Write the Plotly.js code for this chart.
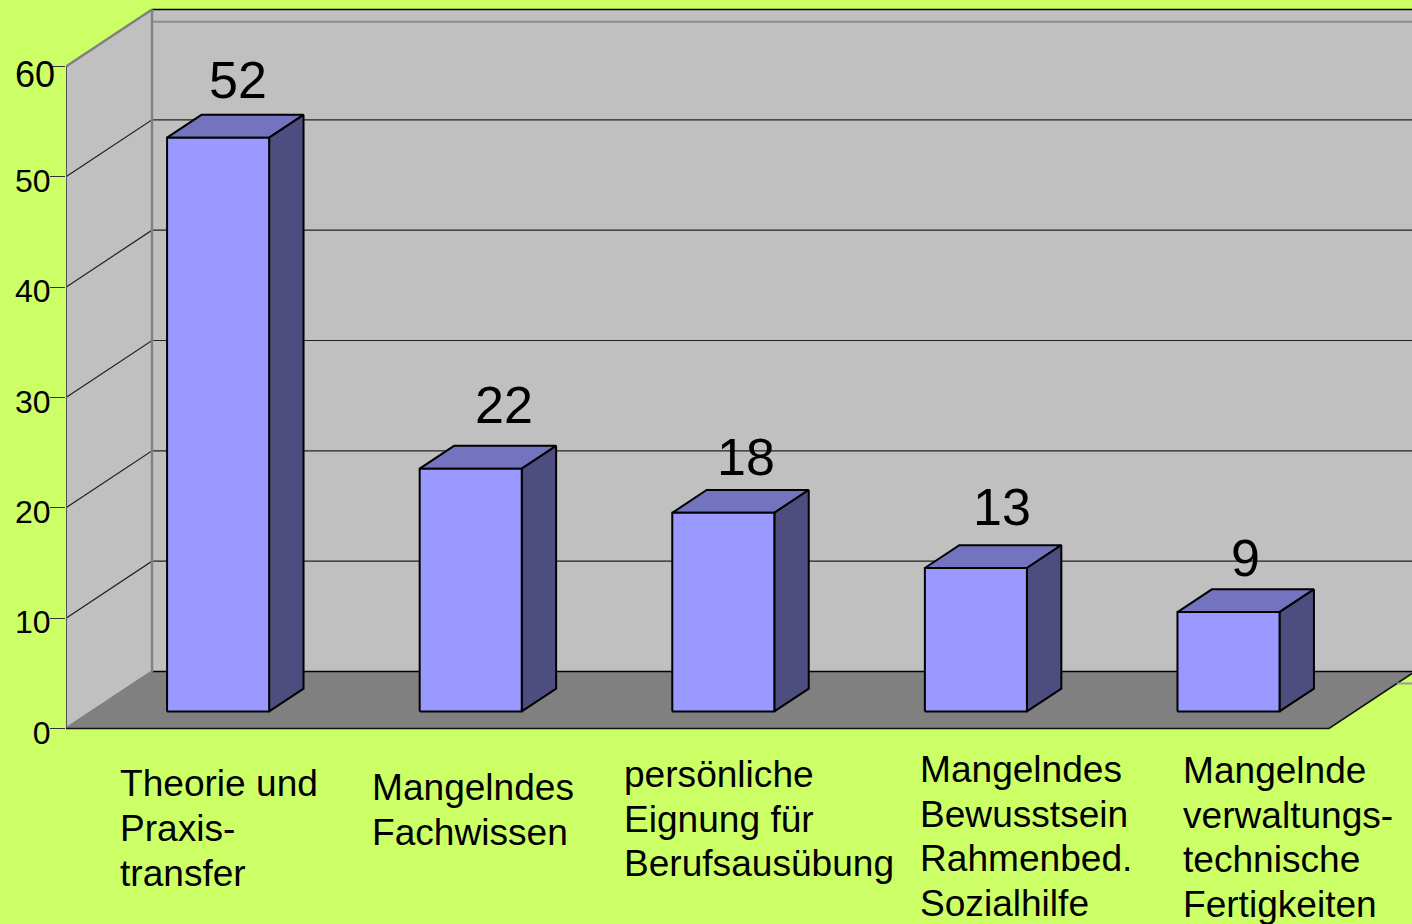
<!DOCTYPE html>
<html>
<head>
<meta charset="utf-8">
<script src="https://cdn.plot.ly/plotly-3.0.1.min.js"></script>
<style>html,body{margin:0;padding:0;background:#CCFF66;overflow:hidden}</style>
</head>
<body>
<div id="chart" style="width:1412px;height:924px"></div>
<script>
const categoryLines = [
  ["Theorie und", "Praxis-", "transfer"],
  ["Mangelndes", "Fachwissen"],
  ["persönliche", "Eignung für", "Berufsausübung"],
  ["Mangelndes", "Bewusstsein", "Rahmenbed.", "Sozialhilfe"],
  ["Mangelnde", "verwaltungs-", "technische", "Fertigkeiten"]
];
const values = [52, 22, 18, 13, 9];
const yTicks = [0, 10, 20, 30, 40, 50, 60];

// label placement (px)
const labelDx = [71, 84, 74, 77, 68.5];
const labelDy = [58, 64, 56, 61, 54];
const catLeft = [118, 369.8, 621.8, 917.8, 1181];
const catTop = [783, 787, 774, 769, 770];
const catLineGap = [45, 45, 44.6, 44.7, 44.7];

// scales of the pseudo-3D box
const pxPerCat = 252.6, pxPerVal = 662 / 60;
const depthX = 86 / pxPerCat, depthY = 57 / pxPerVal;
const plotLeft = 66, frontBase = 728.5;
const xMax = (1412 - plotLeft) / pxPerCat;
const yMin = -(924 - frontBase) / pxPerVal, yMax = frontBase / pxPerVal;
const barStart = 0.298, barWidth = 0.404, barNear = 0.3, barFar = 0.7;

const P = (cat, val, depth) => [cat + depth * depthX, val + depth * depthY];
const traces = [];
function poly(points, fill, lineColor, width) {
  const closed = fill ? points.concat([points[0]]) : points;
  traces.push({
    type: 'scatter', mode: 'lines', hoverinfo: 'skip', showlegend: false,
    x: closed.map(p => p[0]), y: closed.map(p => p[1]),
    fill: fill ? 'toself' : 'none', fillcolor: fill || undefined,
    line: {color: lineColor, width: width}
  });
}

const edgeDepth = (xMax - 5) / depthX;

// back wall, left wall, floor
poly([P(0,0,1), [xMax, depthY], [xMax, 60 + depthY], P(0,60,1)], '#C0C0C0', 'rgba(0,0,0,0)', 0);
poly([P(0,0,0), P(0,0,1), P(0,60,1), P(0,60,0)], '#C0C0C0', 'rgba(0,0,0,0)', 0);
poly([P(0,0,0), P(5,0,0), P(5,0,edgeDepth), [xMax, depthY], P(0,0,1)], '#808080', 'rgba(0,0,0,0)', 0);

// gridlines
yTicks.slice(1, 6).forEach(t => {
  poly([P(0,t,0), P(0,t,1), [xMax, t + depthY]], null, '#222222', 1.2);
});
poly([P(0,58.9,1), [xMax, 58.9 + depthY]], null, '#8c8c8c', 2);
poly([P(0,60,1), [xMax, 60 + depthY]], null, '#000000', 1.5);
poly([P(0,0,1), [xMax, depthY]], null, '#000000', 1.5);
poly([P(0,60,0), P(0,60,1), P(0,0,1), P(0,0,0)], null, '#808080', 2.4);
poly([P(0,0,0), P(0,60,0)], null, '#555555', 2);
poly([P(0,0,0), P(5,0,0), P(5,0,edgeDepth)], null, '#111111', 1.6);
poly([[xMax - 15 / pxPerCat, 4.08], [xMax, 4.08]], null, '#999999', 2);

// bars
values.forEach((v, i) => {
  const a = i + barStart, b = a + barWidth;
  const nd = barNear, fd = barFar;
  poly([P(a,v,nd), P(b,v,nd), P(b,v,fd), P(a,v,fd)], '#7373BF', '#000000', 2);
  poly([P(b,0,nd), P(b,v,nd), P(b,v,fd), P(b,0,fd)], '#4D4D80', '#000000', 2);
  poly([P(a,0,nd), P(b,0,nd), P(b,v,nd), P(a,v,nd)], '#9999FF', '#000000', 2);
});

const annotations = [];
values.forEach((v, i) => {
  const p = P(i + barStart, v, barNear);
  annotations.push({
    x: p[0], y: p[1], xref: 'x', yref: 'y', text: String(v), showarrow: false,
    xanchor: 'center', yanchor: 'middle', xshift: labelDx[i], yshift: labelDy[i],
    font: {family: 'Liberation Sans, Arial, sans-serif', size: 52, color: '#000'}
  });
});
categoryLines.forEach((lines, i) => {
  lines.forEach((txt, j) => {
    annotations.push({
      x: (catLeft[i] - plotLeft) / pxPerCat,
      y: (frontBase - catTop[i] - j * catLineGap[i]) / pxPerVal,
      xref: 'x', yref: 'y', text: txt, showarrow: false,
      xanchor: 'left', yanchor: 'middle',
      font: {family: 'Liberation Sans, Arial, sans-serif', size: 37.1, color: '#000'}
    });
  });
});
// the top tick label is larger and set further right than the others
annotations.push({
  x: 0, y: 60, xref: 'x', yref: 'y', text: String(yTicks[6]), showarrow: false,
  xanchor: 'right', yanchor: 'middle', xshift: -9, yshift: -8,
  font: {family: 'Liberation Sans, Arial, sans-serif', size: 36, color: '#000'}
});

Plotly.newPlot('chart', traces, {
  width: 1412, height: 924, autosize: false,
  margin: {l: plotLeft, r: 0, t: 0, b: 0, pad: 0},
  paper_bgcolor: '#CCFF66', plot_bgcolor: 'rgba(0,0,0,0)',
  showlegend: false,
  xaxis: {range: [0, xMax], visible: false, fixedrange: true},
  yaxis: {
    range: [yMin, yMax], fixedrange: true, zeroline: false, showgrid: false, showline: false,
    tickmode: 'array', tickvals: yTicks, ticktext: yTicks.map(t => t === 60 ? '' : String(t)),
    ticks: 'outside', ticklen: 15, tickwidth: 1, tickcolor: '#333333',
    ticklabelstandoff: -7, ticklabelshift: 4,
    tickfont: {family: 'Liberation Sans, Arial, sans-serif', size: 32, color: '#000'}
  },
  annotations: annotations
}, {displayModeBar: false, staticPlot: true});
</script>
</body>
</html>
